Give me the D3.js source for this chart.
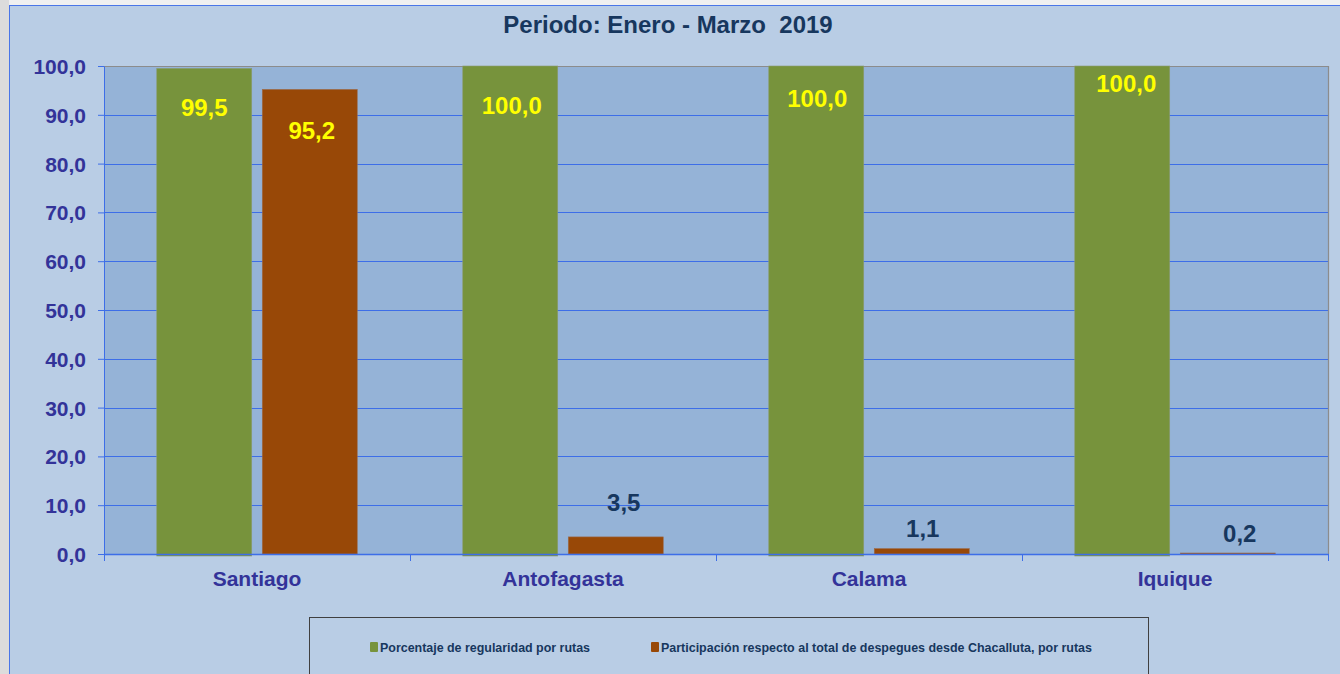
<!DOCTYPE html>
<html lang="es">
<head>
<meta charset="UTF-8">
<title>Periodo: Enero - Marzo 2019</title>
<script src="https://d3js.org/d3.v7.min.js"></script>
<style>
  html, body { margin: 0; padding: 0; background: #f0f0f0; overflow: hidden; }
  svg { display: block; font-family: Arial, "Liberation Sans", sans-serif; }
</style>
</head>
<body>
<script>
  // datos
  const categories = ["Santiago", "Antofagasta", "Calama", "Iquique"];
  const seriesNames = ["Porcentaje de regularidad por rutas",
                       "Participación respecto al total de despegues desde Chacalluta, por rutas"];
  const regularidad = [99.5, 100.0, 100.0, 100.0];
  const participacion = [95.2, 3.5, 1.1, 0.2];
  const yTicks = [0, 10, 20, 30, 40, 50, 60, 70, 80, 90, 100];

  const W = 1340, H = 674;
  const plot = { left: 104, right: 1328, top: 66, bottom: 554 };
  const colors = ["#77933c", "#984807"];

  const fmt = v => d3.format(".1f")(v).replace(".", ",");

  const svg = d3.select("body").append("svg")
    .attr("width", W).attr("height", H);

  // fondo de la página y marco del gráfico
  svg.append("rect").attr("x", 0).attr("y", 0).attr("width", 9).attr("height", H).attr("fill", "#dcdcdc");
  svg.append("rect").attr("x", 9.5).attr("y", 5.5).attr("width", W).attr("height", H)
    .attr("fill", "#b9cde5").attr("stroke", "#4a76e8").attr("stroke-width", 1);

  // título
  svg.append("text")
    .attr("x", 668).attr("y", 33)
    .attr("text-anchor", "middle")
    .style("white-space", "pre")
    .attr("font-size", 24).attr("font-weight", "bold").attr("fill", "#17375e")
    .text("Periodo: Enero - Marzo  2019");

  // escalas
  const x0 = d3.scaleBand().domain(categories).range([plot.left, plot.right]);
  const x1 = d3.scaleBand().domain([0, 1]).range([0, x0.bandwidth()])
    .paddingInner(0.1).paddingOuter(0.5);
  const y = d3.scaleLinear().domain([0, 100]).range([plot.bottom, plot.top]);

  // área de trazado
  svg.append("rect")
    .attr("x", plot.left).attr("y", plot.top)
    .attr("width", plot.right - plot.left).attr("height", plot.bottom - plot.top)
    .attr("fill", "#95b3d7");

  // líneas de cuadrícula
  svg.append("g").selectAll("line")
    .data(yTicks.filter(d => d > 0 && d < 100))
    .join("line")
    .attr("x1", plot.left).attr("x2", plot.right)
    .attr("y1", d => Math.round(y(d)) + 0.5).attr("y2", d => Math.round(y(d)) + 0.5)
    .attr("stroke", "#3d6ee8").attr("stroke-width", 1);

  // borde superior y derecho
  svg.append("path")
    .attr("d", `M${plot.left},${plot.top + 0.5}H${plot.right + 0.5}V${plot.bottom}`)
    .attr("fill", "none").attr("stroke", "#8c8c8c").attr("stroke-width", 1.2);

  // barras
  const data = categories.map((c, i) => ({ cat: c, vals: [regularidad[i], participacion[i]] }));
  const groups = svg.append("g").selectAll("g")
    .data(data)
    .join("g")
    .attr("transform", d => `translate(${x0(d.cat)},0)`);

  groups.selectAll("rect")
    .data(d => d.vals.map((v, k) => ({ v, k })))
    .join("rect")
    .attr("x", d => x1(d.k))
    .attr("y", d => y(d.v))
    .attr("width", x1.bandwidth())
    .attr("height", d => y(0) - y(d.v) + (d.k === 0 ? 2 : 0))
    .attr("fill", d => colors[d.k])
    .attr("stroke", d => d.k === 0 ? "#8a9a70" : "#9c6a4a")
    .attr("stroke-width", 0.6);

  // ejes
  const yAxis = svg.append("g")
    .attr("transform", `translate(${plot.left},0)`)
    .call(d3.axisLeft(y).tickValues(yTicks).tickSize(6).tickSizeOuter(0).tickFormat(fmt));
  yAxis.select(".domain").attr("stroke", "#3d6ee8");
  yAxis.selectAll(".tick line").attr("stroke", "#3d6ee8");
  yAxis.selectAll(".tick text")
    .attr("x", -18).attr("dy", "0.36em")
    .attr("font-size", 21).attr("font-weight", "bold").attr("fill", "#333399")
    .attr("font-family", "Arial, 'Liberation Sans', sans-serif");

  const xAxis = svg.append("g")
    .attr("transform", `translate(0,${plot.bottom})`)
    .call(d3.axisBottom(x0).tickSize(0).tickSizeOuter(0));
  xAxis.select(".domain").attr("stroke", "#3d6ee8").attr("stroke-width", 1.5);
  xAxis.selectAll(".tick text")
    .attr("y", 0).attr("dy", 32)
    .attr("font-size", 21).attr("font-weight", "bold").attr("fill", "#333399")
    .attr("font-family", "Arial, 'Liberation Sans', sans-serif");

  // marcas de separación entre categorías
  svg.append("g").selectAll("line")
    .data(categories.concat(["_end"]))
    .join("line")
    .attr("x1", (d, i) => (i < categories.length ? x0(d) : plot.right) + 0.5)
    .attr("x2", (d, i) => (i < categories.length ? x0(d) : plot.right) + 0.5)
    .attr("y1", plot.bottom).attr("y2", plot.bottom + 7)
    .attr("stroke", "#3d6ee8");

  // etiquetas de datos (ajustes manuales como en el original)
  const labelNudge = [
    [[0, 48], [2, 50]],
    [[1.5, 48], [8, -26]],
    [[1, 41], [1, -11.5]],
    [[4, 25.5], [12, -11.5]]
  ];
  groups.each(function (d, i) {
    d3.select(this).selectAll("text.lbl")
      .data(d.vals.map((v, k) => ({ v, k })))
      .join("text")
      .attr("class", "lbl")
      .attr("x", e => x1(e.k) + x1.bandwidth() / 2 + labelNudge[i][e.k][0])
      .attr("y", e => y(e.v) + labelNudge[i][e.k][1])
      .attr("text-anchor", "middle")
      .attr("font-size", 24).attr("font-weight", "bold")
      .attr("fill", e => labelNudge[i][e.k][1] > 0 ? "#ffff00" : "#17375e")
      .text(e => fmt(e.v));
  });

  // leyenda
  const legend = svg.append("g");
  legend.append("rect")
    .attr("x", 309.5).attr("y", 617.5).attr("width", 839).attr("height", 80)
    .attr("fill", "none").attr("stroke", "#404040").attr("stroke-width", 1);
  const legendX = [370, 651];
  const legendLen = [210, 431];
  seriesNames.forEach((name, k) => {
    legend.append("rect")
      .attr("x", legendX[k]).attr("y", 642).attr("width", 8).attr("height", 10)
      .attr("rx", 1).attr("fill", colors[k]);
    legend.append("text")
      .attr("x", legendX[k] + 10).attr("y", 651.5)
      .attr("font-size", 12).attr("font-weight", "bold").attr("fill", "#17375e")
      .attr("textLength", legendLen[k]).attr("lengthAdjust", "spacingAndGlyphs")
      .text(name);
  });
</script>
</body>
</html>
